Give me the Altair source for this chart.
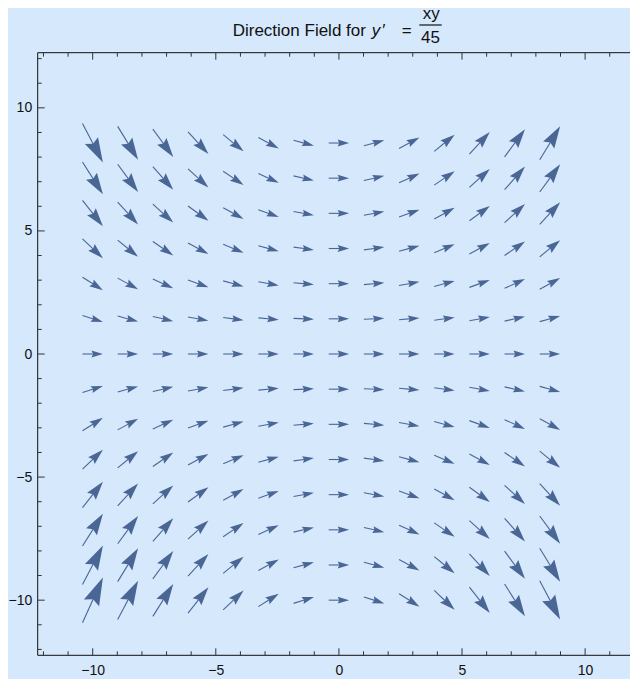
import math
import altair as alt
import pandas as pd

# ---- data -----------------------------------------------------------------
# sample points of the direction field (14 x 14 grid, spacing 10/7)
grid_x = [-10.0, -8.571, -7.143, -5.714, -4.286, -2.857, -1.429,
          0.0, 1.429, 2.857, 4.286, 5.714, 7.143, 8.571]
grid_y = [-10.0, -8.571, -7.143, -5.714, -4.286, -2.857, -1.429,
          0.0, 1.429, 2.857, 4.286, 5.714, 7.143, 8.571]

# the differential equation named in the title: y' = x*y/45
def slope(x, y):
    return x * y / 45.0

major_ticks = [-10, -5, 0, 5, 10]
minor_ticks = [-12, -11, -9, -8, -7, -6, -4, -3, -2, -1,
               1, 2, 3, 4, 6, 7, 8, 9, 11, 12]

# ---- layout / style ------------------------------------------------------------
X_DOMAIN = [-12.234, 11.823]   # right edge of the frame lies just beyond the picture
Y_DOMAIN = [-12.24, 12.24]
W, H = 592.3, 602.6
PX = W / (X_DOMAIN[1] - X_DOMAIN[0])      # pixels per data unit
ARROW_PX = 20.4                           # arrow length (px) per unit magnitude
HEAD_FRAC = 0.56                          # head length / arrow length
ARROW_COLOR = "#4a6695"
BG = "#d5e8fc"
TICK_COLOR = "#333333"
FRAME_COLOR = "#111111"
FONT = "Liberation Sans"
HEAD_PATH = "M0,0L-2,-0.6L-1.72,0L-2,0.6Z"

rows = []
for x0 in grid_x:
    for y0 in grid_y:
        s = slope(x0, y0)
        mag = math.hypot(1.0, s)
        ux, uy = 1.0 / mag, s / mag
        L = ARROW_PX * mag / PX
        tail_x, tail_y = x0 - 0.5 * L * ux, y0 - 0.5 * L * uy
        tip_x, tip_y = x0 + 0.5 * L * ux, y0 + 0.5 * L * uy
        end_x = tip_x - 0.7 * HEAD_FRAC * L * ux
        end_y = tip_y - 0.7 * HEAD_FRAC * L * uy
        angle = (math.degrees(math.atan2(-s, 1.0)) + 360.0) % 360.0
        size = (HEAD_FRAC * L * PX) ** 2
        rows.append(dict(tail_x=tail_x, tail_y=tail_y, end_x=end_x, end_y=end_y,
                         tip_x=tip_x, tip_y=tip_y, angle=angle, size=size))
arrows = pd.DataFrame(rows)

xscale = alt.Scale(domain=X_DOMAIN, nice=False, zero=False)
yscale = alt.Scale(domain=Y_DOMAIN, nice=False, zero=False)

x_axis = alt.Axis(values=major_ticks, ticks=False, tickSize=0, domain=False, grid=False,
                  labelFontSize=14, labelFont=FONT, labelColor="#111111",
                  labelPadding=8, title=None, format="d", labelFlush=False)
y_axis = alt.Axis(values=major_ticks, ticks=False, tickSize=0, domain=False, grid=False,
                  labelFontSize=14, labelFont=FONT, labelColor="#111111",
                  labelPadding=6, title=None, format="d", labelFlush=False)

def X(field):
    return alt.X(field, type="quantitative", scale=xscale, axis=x_axis)

def Y(field):
    return alt.Y(field, type="quantitative", scale=yscale, axis=y_axis)

shafts = alt.Chart(arrows).mark_rule(color=ARROW_COLOR, strokeWidth=1.1).encode(
    x=X("tail_x"), x2="end_x", y=Y("tail_y"), y2="end_y",
)

heads = alt.Chart(arrows).mark_point(shape=HEAD_PATH, filled=True, opacity=1,
                                     color=ARROW_COLOR, strokeWidth=0).encode(
    x=X("tip_x"), y=Y("tip_y"),
    angle=alt.Angle("angle:Q", scale=None),
    size=alt.Size("size:Q", scale=None),
)

layers = [shafts, heads]

# frame lines (left, top, bottom; the right one is outside the picture)
one = pd.DataFrame({"a": [0]})
frame = alt.Chart(one).mark_rule(color=FRAME_COLOR, strokeWidth=1)
layers.append(frame.encode(x=alt.value(0), y=alt.value(0), y2=alt.value(H)))
layers.append(frame.encode(x=alt.value(0), x2=alt.value(W), y=alt.value(0)))
layers.append(frame.encode(x=alt.value(0), x2=alt.value(W), y=alt.value(H)))

# frame ticks pointing inward
for vals, ln in [(major_ticks, 7), (minor_ticks, 4)]:
    df = pd.DataFrame({"v": vals})
    base = alt.Chart(df).transform_filter(
        (alt.datum.v >= X_DOMAIN[0]) & (alt.datum.v <= X_DOMAIN[1])
    ).mark_rule(color=TICK_COLOR, strokeWidth=1)
    layers.append(base.encode(x=X("v"), y=alt.value(H), y2=alt.value(H - ln)))
    layers.append(base.encode(x=X("v"), y=alt.value(0), y2=alt.value(ln)))
    layers.append(alt.Chart(df).mark_rule(color=TICK_COLOR, strokeWidth=1).encode(
        y=Y("v"), x=alt.value(0), x2=alt.value(ln)))

# title: "Direction Field for y′ = xy/45" with a stacked fraction
def title_text(txt, x, y, align="left", italic=False, size=17):
    return alt.Chart(pd.DataFrame({"t": [txt]})).mark_text(
        align=align, baseline="alphabetic", font=FONT, fontSize=size,
        fontStyle="italic" if italic else "normal", color="#111111"
    ).encode(text="t:N", x=alt.value(x), y=alt.value(y))

layers.append(title_text("Direction Field for", 195.0, -17.0))
layers.append(title_text("y", 334.0, -17.0, italic=True))
layers.append(title_text("′", 344.5, -17.0))
layers.append(title_text("=", 364.0, -17.0))
layers.append(title_text("xy", 393.6, -33.6, align="center"))
layers.append(title_text("45", 392.8, -9.4, align="center"))
layers.append(alt.Chart(one).mark_rule(color="#111111", strokeWidth=1.2).encode(
    x=alt.value(381.6), x2=alt.value(404.0), y=alt.value(-27.7)))

chart = alt.layer(*layers).properties(
    width=W, height=H,
    autosize=alt.AutoSizeParams(type="none"),
    padding={"left": 29.7, "top": 44.7, "right": 0, "bottom": 23.7},
    background=BG,
).configure_view(stroke="transparent")

chart.save("out.html", embed_options={"renderer": "svg", "actions": False})
